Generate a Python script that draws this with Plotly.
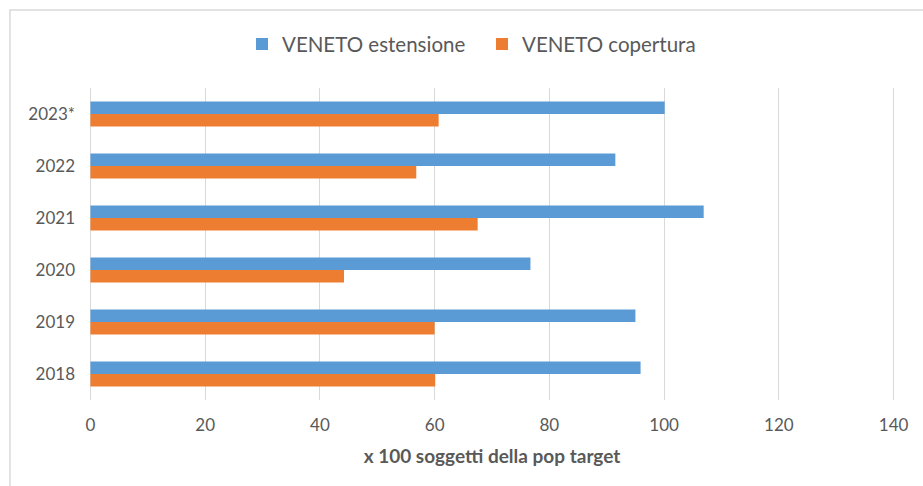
import plotly.graph_objects as go

years = ["2018", "2019", "2020", "2021", "2022", "2023*"]
estensione = [95.9, 95.0, 76.7, 106.9, 91.5, 100.1]
copertura = [60.1, 60.0, 44.2, 67.5, 56.8, 60.7]
x_ticks = [0, 20, 40, 60, 80, 100, 120, 140]

BLUE = "#5B9BD5"
ORANGE = "#ED7D31"
TXT = "#595959"
GRID = "#D9D9D9"
FONT = "Lato"

fig = go.Figure()
fig.add_trace(go.Bar(y=years, x=copertura, orientation="h", name="VENETO copertura",
                     marker=dict(color=ORANGE, line=dict(width=0))))
fig.add_trace(go.Bar(y=years, x=estensione, orientation="h", name="VENETO estensione",
                     marker=dict(color=BLUE, line=dict(width=0))))

fig.update_layout(
    width=923, height=486,
    margin=dict(l=89.3, r=28.1, t=88, b=86),
    paper_bgcolor="white", plot_bgcolor="white",
    barmode="group", bargap=0.52, bargroupgap=0,
    font=dict(family=FONT, color=TXT, size=17),
    legend=dict(orientation="h", x=0.4876, xanchor="center", y=0.909, yanchor="middle",
                yref="container", traceorder="reversed",
                font=dict(size=20.5, color=TXT, family=FONT),
                itemwidth=30, entrywidth=195, entrywidthmode="pixels"),
    xaxis=dict(range=[-0.25, 140.25], tickvals=x_ticks, showgrid=True, gridcolor=GRID,
               gridwidth=1, zeroline=True, zerolinecolor=GRID, zerolinewidth=1,
               showline=False, ticks="",
               ticklabelstandoff=13, tickfont=dict(size=17, color=TXT, family=FONT),
               title=dict(text="<b>x 100 soggetti della pop target</b>",
                          font=dict(size=19, color=TXT, family=FONT), standoff=15)),
    yaxis=dict(showgrid=False, zeroline=False, showline=False, ticks="",
               ticklabelstandoff=13, tickfont=dict(size=17, color=TXT, family=FONT)),
)

fig.add_shape(type="rect", xref="paper", yref="paper",
              x0=-79/805.6, x1=1.1, y0=-0.3, y1=1 + 78/312,
              line=dict(color=GRID, width=1.5), fillcolor="rgba(0,0,0,0)", layer="below")

fig.write_html("out.html")
